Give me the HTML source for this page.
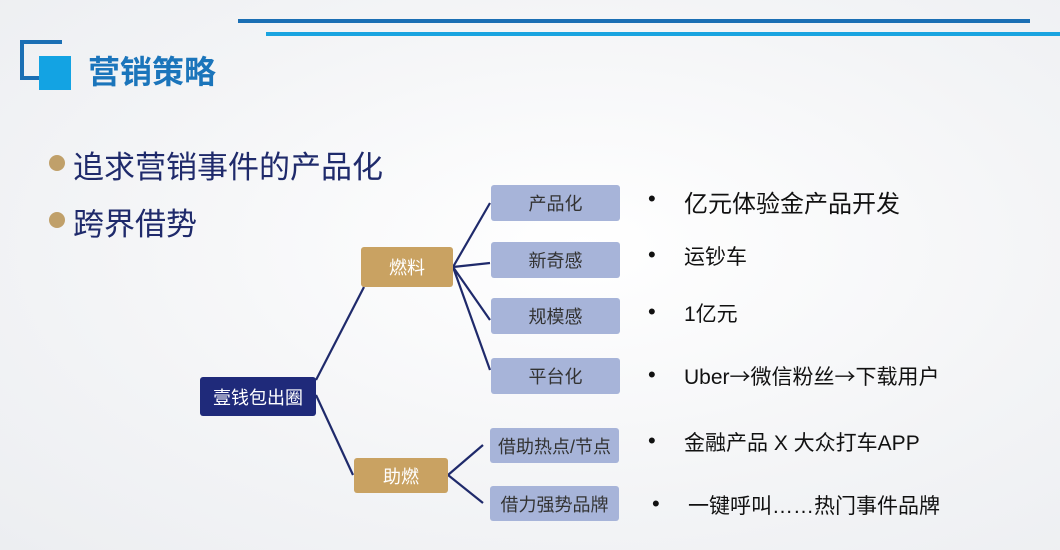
<!DOCTYPE html>
<html><head><meta charset="utf-8"><style>
body{margin:0;width:1060px;height:550px;overflow:hidden;font-family:"Liberation Sans","Noto Sans CJK SC",sans-serif;}
#bg{position:absolute;left:0;top:0;width:1060px;height:550px;background:radial-gradient(ellipse at 55% 45%,#ffffff 0%,#f3f4f6 60%,#eceef1 100%);}
.a{position:absolute;}
.box{position:absolute;display:flex;align-items:center;justify-content:center;border-radius:3px;font-size:18px;}
.c{background:#a7b4d9;color:#333;}
.g{background:#c9a262;color:#fff;}
.t{position:absolute;font-size:22px;color:#111;}
.h{position:absolute;font-size:31px;color:#1f2a6b;}
.dot{position:absolute;width:16px;height:16px;border-radius:50%;background:#c0a06a;}
</style></head><body>
<div id="bg"></div>
<div class="a" style="left:238px;top:19px;width:792px;height:4px;background:#1b6fb4"></div>
<div class="a" style="left:266px;top:32px;width:794px;height:4px;background:#1aa4e0"></div>
<div class="a" style="left:20px;top:40px;width:40px;height:40px;border:4px solid #1b6fb4;border-right:none;border-bottom:4px solid #1b6fb4;box-sizing:border-box;"></div>
<div class="a" style="left:40px;top:40px;width:22px;height:4px;background:#1b6fb4"></div>
<div class="a" style="left:39px;top:56px;width:32px;height:34px;background:#13a3e3"></div>
<div class="a" style="left:88px;top:47px;font-size:32px;font-weight:bold;color:#1b75bb">营销策略</div>
<div class="dot" style="left:49px;top:155px"></div>
<div class="h" style="left:73px;top:142px">追求营销事件的产品化</div>
<div class="dot" style="left:49px;top:212px"></div>
<div class="h" style="left:73px;top:199px">跨界借势</div>
<svg class="a" style="left:0;top:0" width="1060" height="550">
<g stroke="#1f2a6b" stroke-width="2.2" fill="none">
<line x1="316" y1="380" x2="364" y2="287"/>
<line x1="316" y1="395" x2="353" y2="475"/>
<line x1="453" y1="267" x2="490" y2="203"/>
<line x1="453" y1="267" x2="490" y2="263"/>
<line x1="453" y1="267" x2="490" y2="320"/>
<line x1="453" y1="267" x2="490" y2="370"/>
<line x1="448" y1="475" x2="483" y2="445"/>
<line x1="448" y1="475" x2="483" y2="503"/>
</g></svg>
<div class="box" style="left:200px;top:377px;width:116px;height:39px;background:#1f2a7a;color:#fff">壹钱包出圈</div>
<div class="box g" style="left:361px;top:247px;width:92px;height:40px">燃料</div>
<div class="box g" style="left:354px;top:458px;width:94px;height:35px">助燃</div>
<div class="box c" style="left:491px;top:185px;width:129px;height:36px">产品化</div>
<div class="box c" style="left:491px;top:242px;width:129px;height:36px">新奇感</div>
<div class="box c" style="left:491px;top:298px;width:129px;height:36px">规模感</div>
<div class="box c" style="left:491px;top:358px;width:129px;height:36px">平台化</div>
<div class="box c" style="left:490px;top:428px;width:129px;height:35px">借助热点/节点</div>
<div class="box c" style="left:490px;top:486px;width:129px;height:35px">借力强势品牌</div>
<div class="t" style="left:648px;top:186px">•</div><div class="t" style="left:684px;top:184px;font-size:24px">亿元体验金产品开发</div>
<div class="t" style="left:648px;top:242px">•</div><div class="t" style="left:684px;top:241px;font-size:21px">运钞车</div>
<div class="t" style="left:648px;top:299px">•</div><div class="t" style="left:684px;top:298px;font-size:21px">1亿元</div>
<div class="t" style="left:648px;top:362px">•</div><div class="t" style="left:684px;top:361px;font-size:21px">Uber<span style="font-family:'Noto Sans CJK SC'">→</span>微信粉丝<span style="font-family:'Noto Sans CJK SC'">→</span>下载用户</div>
<div class="t" style="left:648px;top:428px">•</div><div class="t" style="left:684px;top:427px;font-size:21px">金融产品 X 大众打车APP</div>
<div class="t" style="left:652px;top:491px">•</div><div class="t" style="left:688px;top:490px;font-size:21px">一键呼叫……热门事件品牌</div>
</body></html>
